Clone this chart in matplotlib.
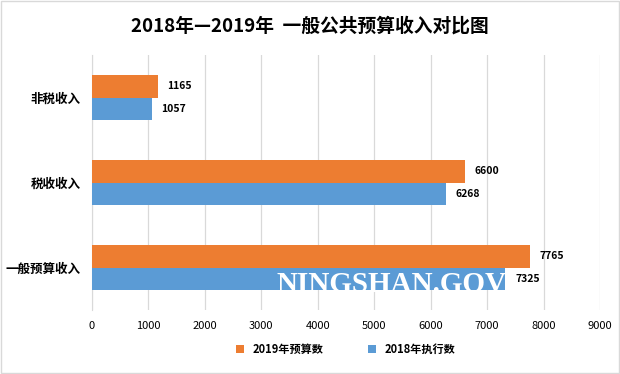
import matplotlib.pyplot as plt
import numpy as np

plt.rcParams['font.family'] = ['Noto Sans CJK SC', 'DejaVu Sans']

# data
categories = ['一般预算收入', '税收收入', '非税收入']
budget_2019 = [7765, 6600, 1165]
actual_2018 = [7325, 6268, 1057]
xticks = list(range(0, 10000, 1000))

orange = '#ED7D31'
blue = '#5B9BD5'

fig = plt.figure(figsize=(6.2, 3.74), dpi=100)
ax = fig.add_axes([92/620, 1-310/374, 508/620, 255/374])

y = np.arange(len(categories))
h = 0.26
ax.barh(y + h/2, budget_2019, height=h, color=orange, label='2019年预算数', zorder=3)
ax.barh(y - h/2, actual_2018, height=h, color=blue, label='2018年执行数', zorder=3)

for yi, v in zip(y, budget_2019):
    ax.text(v + 170, yi + h/2, str(v), va='center', ha='left', fontsize=7.5, fontweight='bold')
for yi, v in zip(y, actual_2018):
    ax.text(v + 170, yi - h/2, str(v), va='center', ha='left', fontsize=7.5, fontweight='bold', zorder=5)

ax.set_xlim(0, 9000)
ax.set_ylim(-0.5, 2.5)
ax.set_xticks(xticks)
ax.set_yticks(y)
ax.set_yticklabels(categories, fontsize=9, fontweight='bold')
ax.tick_params(axis='x', labelsize=8, length=0, pad=8)
ax.tick_params(axis='y', length=0, pad=8)
ax.grid(axis='x', color='#D9D9D9', linewidth=0.9, zorder=0)
for s in ['top', 'right', 'bottom']:
    ax.spines[s].set_visible(False)
ax.spines['left'].set_color('#D9D9D9')

# watermark
ax.text(5300, -0.29, 'NINGSHAN.GOV', color='white', fontsize=21, fontweight='bold',
        family='Liberation Serif', ha='center', va='baseline', zorder=4)

fig.suptitle('2018年—2019年  一般公共预算收入对比图', y=0.955, fontsize=13.5, fontweight='bold')

ax.legend(loc='upper center', bbox_to_anchor=(0.5, -0.09), ncol=2, frameon=False,
          prop={'size': 8, 'weight': 'bold'}, handlelength=0.7, handleheight=0.7,
          columnspacing=4)

fig.patches.append(plt.Rectangle((0.002, 0.003), 0.996, 0.994, transform=fig.transFigure,
                                 fill=False, edgecolor='#D9D9D9', linewidth=1))

fig.savefig('out.png', dpi=100)
